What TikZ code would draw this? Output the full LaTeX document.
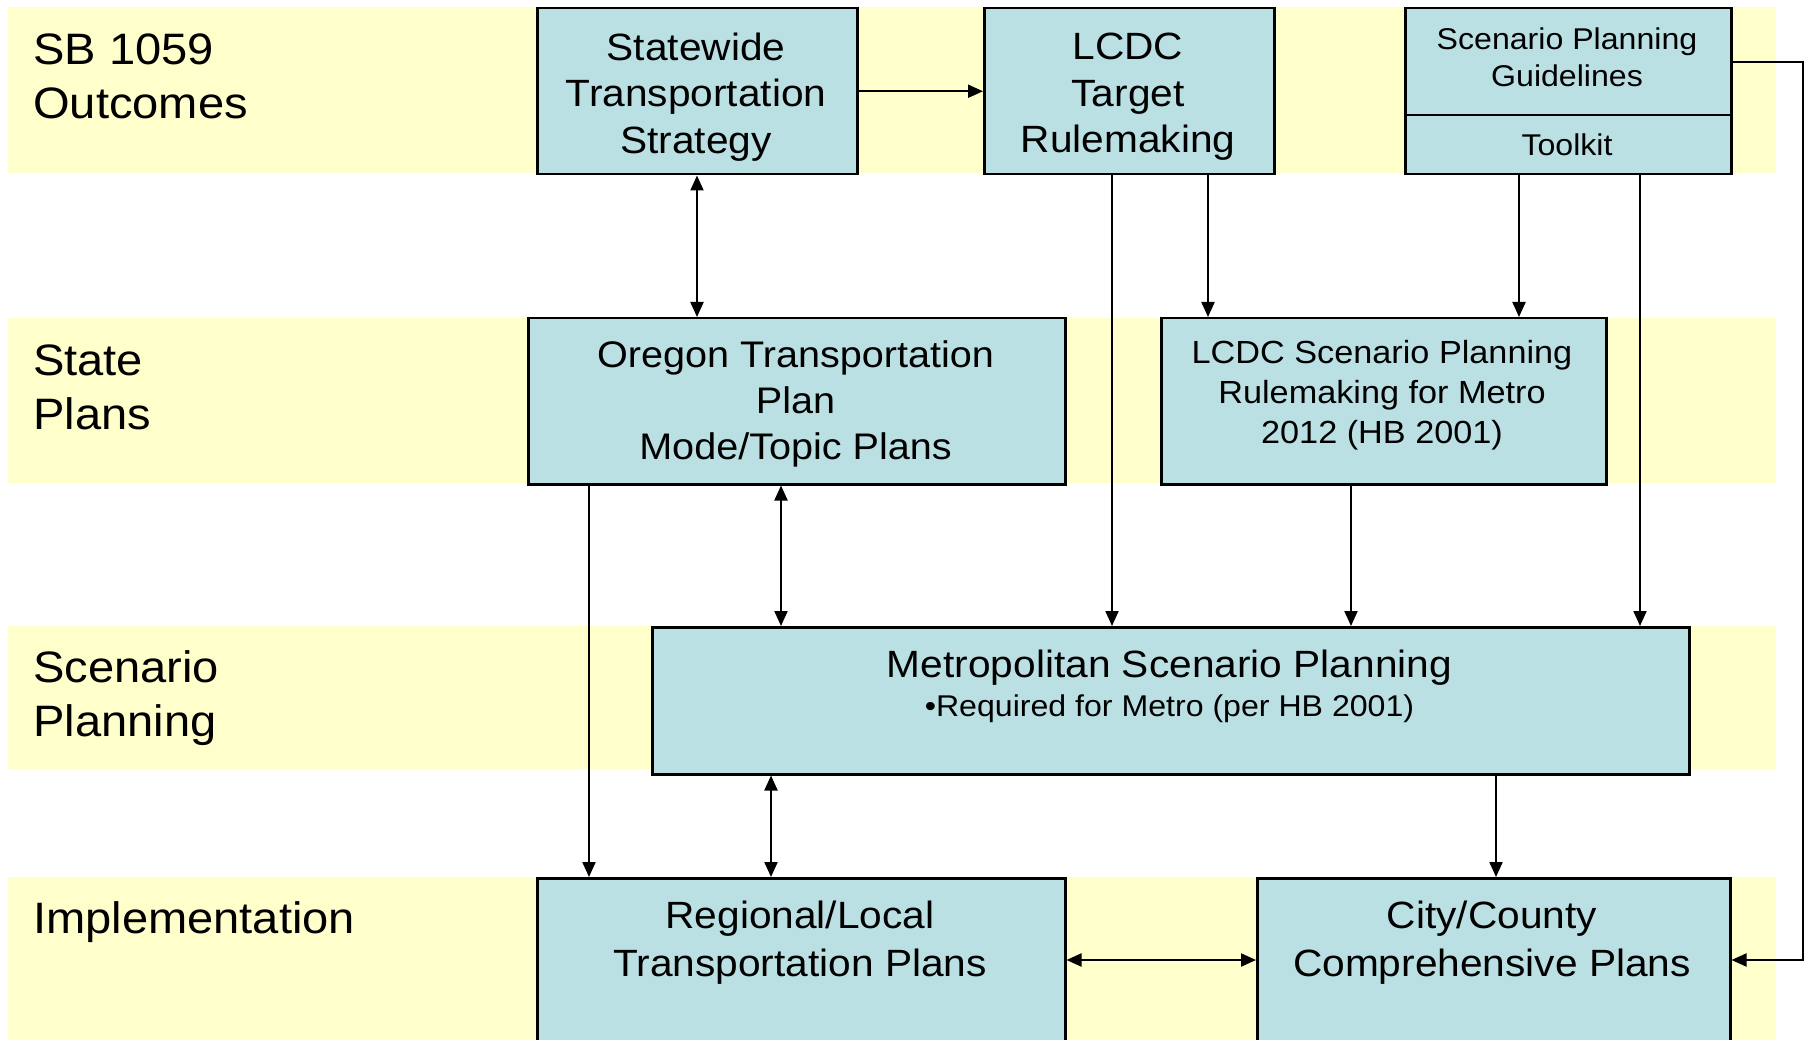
\documentclass[tikz,border=0pt]{standalone}
\usepackage{fontspec}
\setmainfont[FakeStretch=1.07]{Liberation Sans}
\usetikzlibrary{arrows.meta}
\newcommand\myfs[2]{\fontsize{#1}{#2}\selectfont}
\definecolor{bandyellow}{HTML}{FFFFCC}
\definecolor{boxteal}{HTML}{BAE0E3}
\tikzset{
  band/.style={fill=bandyellow, draw=none},
  box/.style={draw=black, fill=boxteal, line width=2.5pt, rectangle, inner sep=0pt, anchor=north west},
  lbl/.style={anchor=west, align=left, inner sep=0pt, font=\myfs{44}{54}},
  txt/.style={align=center, inner sep=0pt},
  arr/.style={line width=2.1pt, -{Triangle[length=15pt,width=13pt]}},
  dbl/.style={line width=2.1pt, {Triangle[length=15pt,width=13pt]}-{Triangle[length=15pt,width=13pt]}}
}
\begin{document}
\begin{tikzpicture}[x=1pt,y=-1pt]
\useasboundingbox (0,0) rectangle (1807,1040);
\clip (0,0) rectangle (1807,1040);
\fill[white] (0,0) rectangle (1807,1040);
% bands
\path[band] (8,7) rectangle (1776,173);
\path[band] (8,318) rectangle (1776,483);
\path[band] (8,626) rectangle (1776,769);
\path[band] (8,877) rectangle (1776,1045);
% row labels
\node[lbl] (lab1) at (33,76) {SB 1059\\Outcomes};
\node[lbl] (lab2) at (33,387) {State\\Plans};
\node[lbl] (lab3) at (33,698) {Scenario\\Planning};
\node[lbl] (lab4) at (33,922) {Implementation};
% boxes
\node[box, minimum width=320pt, minimum height=166pt] (sts) at (536,7) {};
\node[box, minimum width=290pt, minimum height=166pt] (lcdc) at (983,7) {};
\node[box, minimum width=326pt, minimum height=107pt] (spg) at (1404,7) {};
\node[box, minimum width=326pt, minimum height=59pt] (tool) at (1404,114) {};
\node[box, minimum width=537pt, minimum height=166pt] (otp) at (527,317) {};
\node[box, minimum width=445pt, minimum height=166pt] (lsp) at (1160,317) {};
\node[box, minimum width=1037pt, minimum height=147pt] (metro) at (651,626) {};
\node[box, minimum width=528pt, minimum height=190pt] (reg) at (536,877) {};
\node[box, minimum width=473pt, minimum height=190pt] (city) at (1256,877) {};
% box texts
\node[txt, font=\myfs{38}{46.5}] (stsT) at (696,97) {Statewide\\Transportation\\Strategy};
\node[txt, font=\myfs{38}{46.5}] (lcdcT) at (1128,97) {LCDC\\Target\\Rulemaking};
\node[txt, font=\myfs{30}{37}] (spgT) at (1567,57) {Scenario Planning\\Guidelines};
\node[txt, font=\myfs{30}{37}] (toolT) at (1567,145) {Toolkit};
\node[txt, font=\myfs{37}{46}] (otpT) at (795.5,404) {Oregon Transportation\\Plan\\Mode/Topic Plans};
\node[txt, font=\myfs{32}{40}] (lspT) at (1382,395) {LCDC Scenario Planning\\Rulemaking for Metro\\2012 (HB 2001)};
\node[txt, anchor=base, font=\myfs{38}{46}] (metroT) at (1169.5,677) {Metropolitan Scenario Planning};
\node[txt, anchor=base, font=\myfs{30}{36}] (metroN) at (1169.5,716) {•Required for Metro (per HB 2001)};
\node[txt, font=\myfs{38}{48}] (regT) at (800,943) {Regional/Local\\Transportation Plans};
\node[txt, font=\myfs{38}{48}] (cityT) at (1492,943) {City/County\\Comprehensive Plans};
% connectors
\draw[arr] (sts.east) -- (lcdc.west);
\draw[dbl] (697,0 |- sts.south) -- (697,0 |- otp.north);
\draw[arr] (1112,0 |- lcdc.south) -- (1112,0 |- metro.north);
\draw[arr] (1208,0 |- lcdc.south) -- (1208,0 |- lsp.north);
\draw[arr] (1519,0 |- tool.south) -- (1519,0 |- lsp.north);
\draw[arr] (1640,0 |- tool.south) -- (1640,0 |- metro.north);
\draw[arr] (spg.east) -- (1803,0 |- spg.east) |- (city.east |- 0,960);
\draw[arr] (589,0 |- otp.south) -- (589,0 |- reg.north);
\draw[dbl] (781,0 |- otp.south) -- (781,0 |- metro.north);
\draw[arr] (1351,0 |- lsp.south) -- (1351,0 |- metro.north);
\draw[dbl] (771,0 |- metro.south) -- (771,0 |- reg.north);
\draw[arr] (1496,0 |- metro.south) -- (1496,0 |- city.north);
\draw[dbl] (reg.east |- 0,960) -- (city.west |- 0,960);
\end{tikzpicture}
\end{document}
